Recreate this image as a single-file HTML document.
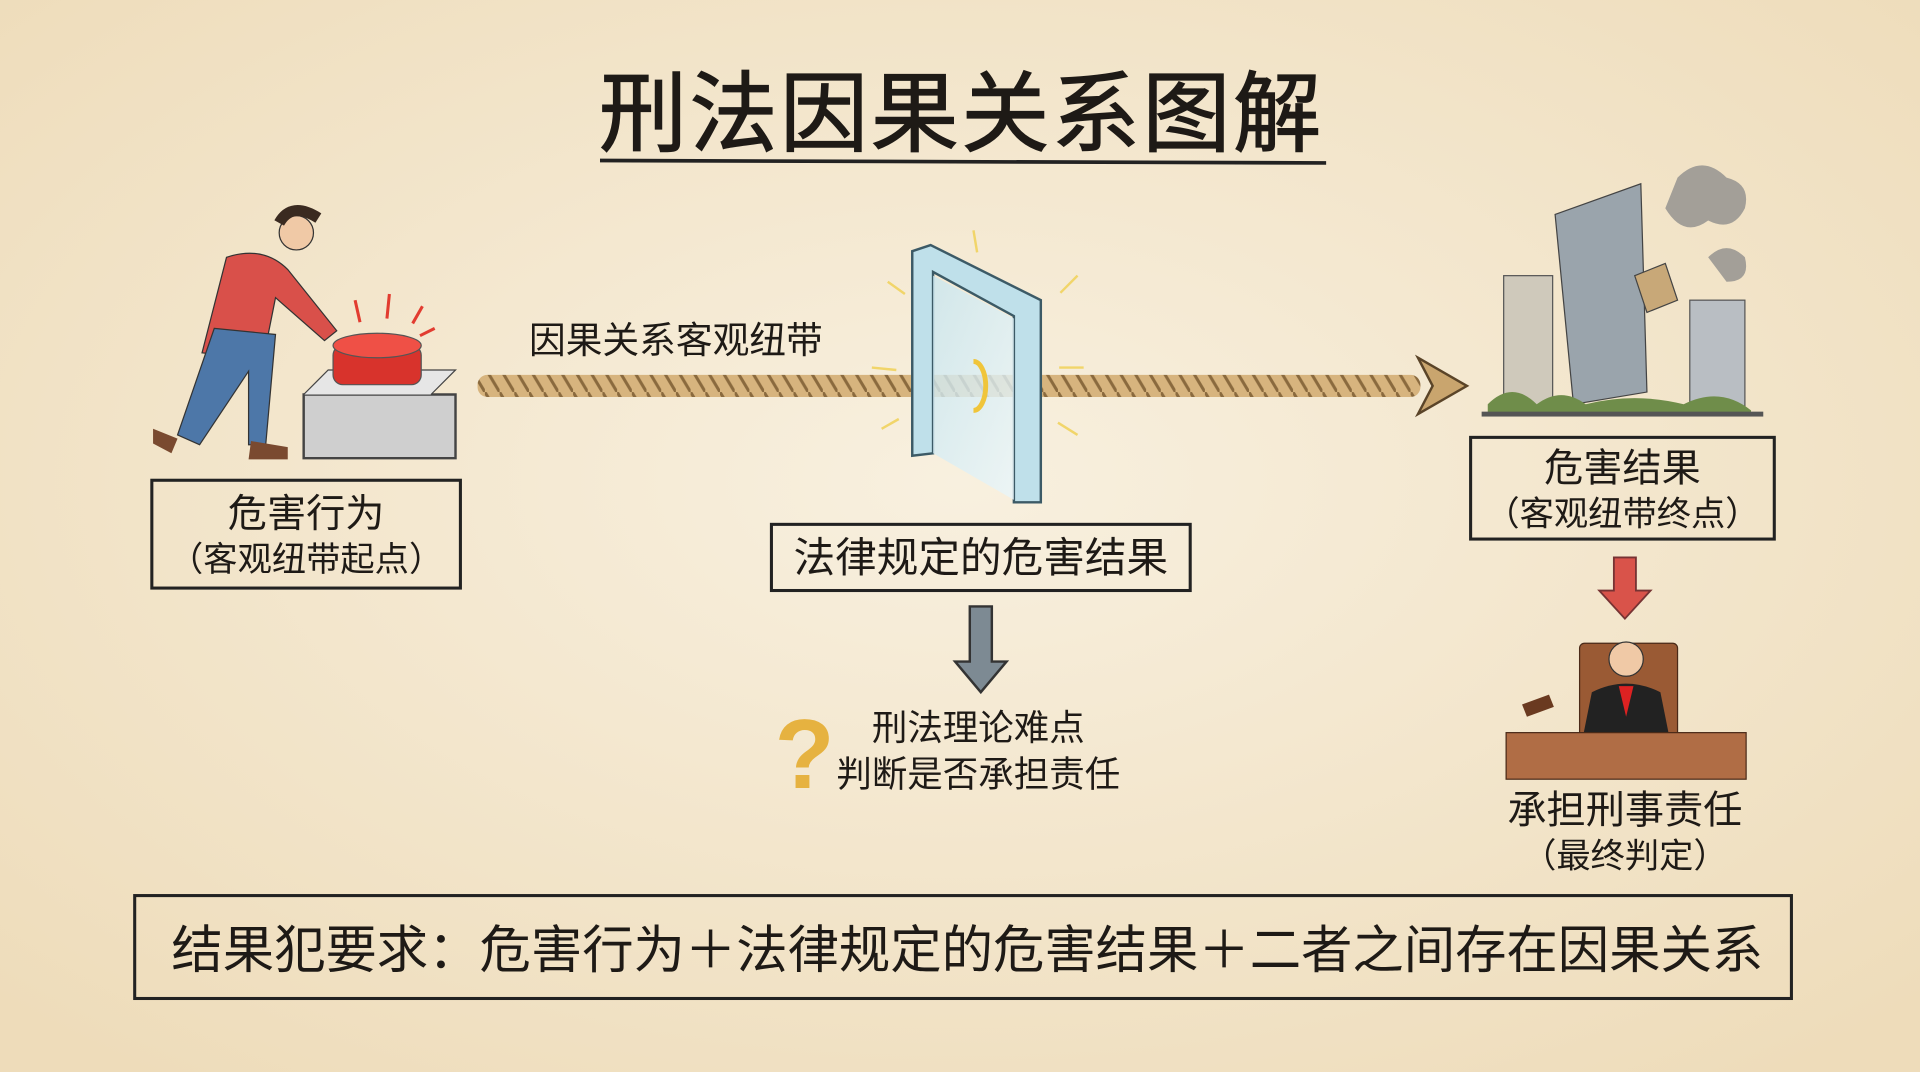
<!DOCTYPE html>
<html><head><meta charset="utf-8"><style>
html,body{margin:0;padding:0;width:1920px;height:1072px;overflow:hidden;background:#f4e8d0}
svg{display:block}
text{font-family:"Liberation Sans","Noto Sans CJK SC",sans-serif;fill:#1e1a16}
</style></head><body>
<svg width="1920" height="1072" viewBox="0 0 1568 875" preserveAspectRatio="none" xmlns="http://www.w3.org/2000/svg">
<defs>
<radialGradient id="bg" cx="50%" cy="45%" r="70%"><stop offset="0" stop-color="#f8f0df"/><stop offset="1" stop-color="#eedcba"/></radialGradient>
<pattern id="rope" width="12" height="20" patternUnits="userSpaceOnUse"><rect width="12" height="20" fill="#d7b47e"/><path d="M0 0 L12 20" stroke="#8a6a3e" stroke-width="2.5"/></pattern>
<linearGradient id="glass" x1="0" y1="0" x2="1" y2="1"><stop offset="0" stop-color="#c9e6ef"/><stop offset="1" stop-color="#eaf6fa"/></linearGradient>
</defs>
<rect width="1568" height="875" fill="url(#bg)"/>
<text x="785" y="118" font-size="72" text-anchor="middle" letter-spacing="2" stroke="#1e1a16" stroke-width="1">刑法因果关系图解</text>
<path d="M490 131 L1083 133" stroke="#222" stroke-width="3"/>
<circle cx="242" cy="190" r="14" fill="#f0c9a6" stroke="#333"/>
<path d="M228 182 q10 -18 32 -4" stroke="#3a2a20" stroke-width="9" fill="none"/>
<path d="M185 210 q30 -10 50 10 l40 50 -10 8 -40 -35 -10 50 -50 -5 z" fill="#d9504a" stroke="#333"/>
<path d="M175 268 l50 5 -8 90 -14 0 0 -60 -40 60 -18 -8 z" fill="#4d77a8" stroke="#333"/>
<path d="M125 350 l20 8 -5 12 -15 -8z M205 360 l30 5 0 10 -32 0z" fill="#7a4a30"/>
<path d="M248 322 l124 0 0 52 -124 0z" fill="#cfcfcf" stroke="#444" stroke-width="2"/>
<path d="M248 322 l20 -20 104 0 -20 20" fill="#e6e6e6" stroke="#444"/>
<rect x="272" y="282" width="72" height="32" rx="8" fill="#d8332c" stroke="#555"/>
<ellipse cx="308" cy="282" rx="36" ry="10" fill="#ef5046" stroke="#555"/>
<path d="M290 245 l4 18 M318 240 l-2 20 M345 250 l-8 14 M355 268 l-12 6" stroke="#e23c30" stroke-width="2.5"/>
<rect x="390" y="306" width="770" height="18" fill="url(#rope)" rx="8"/>
<path d="M1158 292 L1198 315 L1158 338 L1170 315z" fill="#c9a56e" stroke="#5a4428" stroke-width="2"/>
<text x="432" y="288" font-size="30">因果关系客观纽带</text>
<path d="M745 205 L760 200 L850 245 L850 410 L828 410 L828 258 L762 222 L762 370 L745 372z" fill="#bfe0ea" stroke="#3c5a66" stroke-width="2"/>
<path d="M762 225 L828 260 L828 408 L762 370z" fill="url(#glass)" opacity="0.8"/>
<path d="M795 295 a10 20 0 0 1 0 40" stroke="#f0c53a" stroke-width="4" fill="none"/>
<g stroke="#f1d56a" stroke-width="2"><path d="M795 188 l3 18 M725 230 l14 10 M712 300 l20 2 M720 350 l14 -8 M880 225 l-14 14 M885 300 l-20 0 M880 355 l-16 -10"/></g>
<rect x="124" y="392" width="252" height="88" fill="none" stroke="#222" stroke-width="2.5"/>
<text x="250" y="430" font-size="32" text-anchor="middle">危害行为</text>
<text x="250" y="466" font-size="28" text-anchor="middle">（客观纽带起点）</text>
<rect x="630" y="428" width="342" height="54" fill="none" stroke="#222" stroke-width="2.5"/>
<text x="801" y="467" font-size="34" text-anchor="middle">法律规定的危害结果</text>
<rect x="1201" y="357" width="248" height="83" fill="none" stroke="#222" stroke-width="2.5"/>
<text x="1325" y="393" font-size="32" text-anchor="middle">危害结果</text>
<text x="1325" y="429" font-size="28" text-anchor="middle">（客观纽带终点）</text>
<path d="M792 495 L810 495 L810 540 L822 540 L801 565 L780 540 L792 540z" fill="#7d8a93" stroke="#333" stroke-width="2"/>
<text x="657" y="643" font-size="80" text-anchor="middle" style="fill:#e6b240" font-weight="bold">?</text>
<text x="712" y="604" font-size="29">刑法理论难点</text>
<text x="683" y="642" font-size="29">判断是否承担责任</text>
<rect x="1228" y="225" width="40" height="110" fill="#cfc9bb" stroke="#555"/>
<path d="M1270 175 L1340 150 L1345 320 L1285 330z" fill="#9aa4ac" stroke="#444"/>
<rect x="1380" y="245" width="45" height="90" fill="#b9bec3" stroke="#555"/>
<path d="M1335 225 l25 -10 10 30 -25 10z" fill="#c8a878" stroke="#444"/>
<path d="M1370 145 q20 -20 40 0 q20 5 15 25 q-10 20 -30 10 q-20 15 -35 -10z M1395 210 q15 -15 30 0 q5 20 -15 20z" fill="#888" opacity="0.75"/>
<path d="M1215 330 q20 -20 40 0 q20 -15 40 0 q40 -10 80 0 q30 -15 55 5 l0 5 -215 0z" fill="#6f8d4a"/>
<rect x="1210" y="336" width="230" height="4" fill="#555"/>
<path d="M1318 455 L1336 455 L1336 482 L1348 482 L1327 505 L1306 482 L1318 482z" fill="#d9534a" stroke="#733" stroke-width="1.5"/>
<rect x="1290" y="525" width="80" height="80" rx="4" fill="#9a5a34" stroke="#4a2a18"/>
<circle cx="1328" cy="538" r="14" fill="#f0c9a6" stroke="#333"/>
<path d="M1300 565 q28 -14 56 0 l8 40 -72 0z" fill="#222"/>
<path d="M1322 560 l12 0 -6 25z" fill="#d22"/>
<rect x="1230" y="598" width="196" height="38" fill="#b06d45" stroke="#4a2a18"/>
<path d="M1243 575 l22 -8 4 10 -22 8z" fill="#6a3a20"/>
<text x="1327" y="672" font-size="32" text-anchor="middle">承担刑事责任</text>
<text x="1327" y="708" font-size="28" text-anchor="middle">（最终判定）</text>
<rect x="110" y="731" width="1353" height="84" fill="none" stroke="#222" stroke-width="2.5"/>
<text x="790" y="790" font-size="42" text-anchor="middle" textLength="1300" lengthAdjust="spacing">结果犯要求：危害行为＋法律规定的危害结果＋二者之间存在因果关系</text>
</svg>
</body></html>
